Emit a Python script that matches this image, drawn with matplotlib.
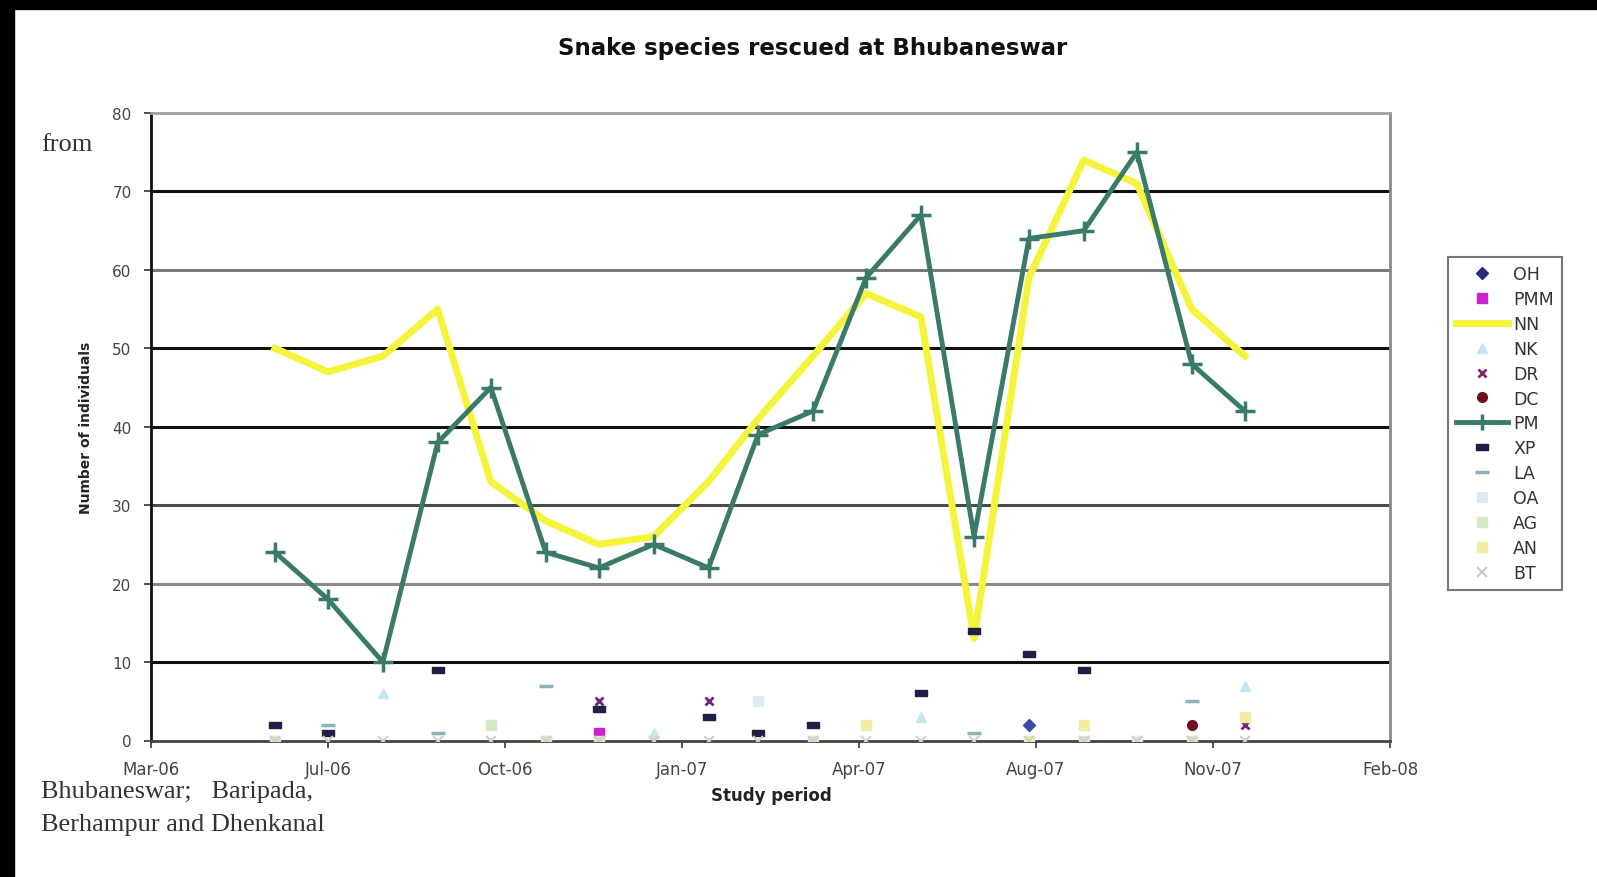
import numpy as np
import pandas as pd
import matplotlib
matplotlib.use('Agg')
import matplotlib.pyplot as plt
import matplotlib.dates as mdates
from matplotlib.patches import Rectangle
from matplotlib.lines import Line2D

nan = np.nan

# Monthly rescue counts, Jun-2006 .. Dec-2007
months = pd.date_range('2006-06-01', periods=19, freq='MS')

nn = [50, 47, 49, 55, 33, 28, 25, 26, 33, 41, 49, 57, 54, 13, 59, 74, 71, 55, 49]
pm = [24, 18, 10, 38, 45, 24, 22, 25, 22, 39, 42, 59, 67, 26, 64, 65, 75, 48, 42]

oh  = [nan, nan, nan, nan, nan, nan, nan, nan, nan, nan, nan, nan, nan, nan, 2, nan, nan, nan, nan]
pmm = [nan, nan, nan, nan, nan, nan, 1, nan, nan, nan, nan, nan, nan, nan, nan, nan, nan, nan, nan]
nk  = [nan, nan, 6, nan, nan, nan, nan, 1, nan, nan, nan, nan, 3, nan, nan, nan, nan, nan, 7]
dr  = [nan, nan, nan, nan, nan, nan, 5, nan, 5, nan, nan, nan, nan, nan, nan, nan, nan, nan, 2]
dc  = [nan, nan, nan, nan, nan, nan, nan, nan, nan, nan, nan, nan, nan, nan, nan, nan, nan, 2, nan]
xp  = [2, 1, nan, 9, nan, nan, 4, nan, 3, 1, 2, nan, 6, 14, 11, 9, nan, nan, nan]
la  = [nan, 2, nan, 1, nan, 7, nan, nan, nan, nan, nan, nan, nan, 1, nan, nan, nan, 5, nan]
oa  = [nan, nan, nan, nan, nan, nan, nan, nan, nan, 5, nan, nan, nan, nan, nan, nan, 0, nan, nan]
ag  = [0, nan, nan, nan, 2, 0, 0, nan, nan, nan, 0, nan, nan, nan, nan, 0, nan, 0, nan]
an  = [nan, nan, nan, nan, nan, nan, nan, nan, nan, nan, nan, 2, nan, nan, 0, 2, nan, nan, 3]
bt  = [0] * 19

species = ['OH', 'PMM', 'NN', 'NK', 'DR', 'DC', 'PM', 'XP', 'LA', 'OA', 'AG', 'AN', 'BT']
y_ticks = [0, 10, 20, 30, 40, 50, 60, 70, 80]

W, H = 1597, 878
fig = plt.figure(figsize=(W / 100, H / 100), dpi=100)
fig.patch.set_facecolor('white')

def fx(px):
    return px / W

def fy(py):
    return 1 - py / H

ax = fig.add_axes([fx(151), fy(741.5), fx(1390) - fx(151), fy(114) - fy(741.5)])

# horizontal gridlines of varying darkness
grid_cols = {10: '#111111', 20: '#8a8a8a', 30: '#4a4a4a', 40: '#111111',
             50: '#111111', 60: '#7a7a7a', 70: '#111111'}
for v, c in grid_cols.items():
    ax.axhline(v, color=c, lw=2.2, zorder=1)

rect_marker = [(-1, -0.55), (1, -0.55), (1, 0.55), (-1, 0.55), (-1, -0.55)]

ax.plot(months, nn, color='#f4f43c', lw=5, solid_joinstyle='round', zorder=3)
ax.plot(months, pm, color='#3a7a68', lw=3.5, marker='+', ms=14, mew=2.5,
        solid_joinstyle='round', zorder=4)

small = [
    (oh,  dict(marker='D', ms=6, color='#3a4aa8')),
    (pmm, dict(marker='s', ms=7, color='#cc22cc')),
    (nk,  dict(marker='^', ms=7, color='#c4e6f2')),
    (dr,  dict(marker='x', ms=6, mew=2, color='#6b2a78')),
    (dc,  dict(marker='o', ms=7, color='#6e1020')),
    (xp,  dict(marker=rect_marker, ms=8, color='#1f1f45')),
    (la,  dict(marker='_', ms=10, mew=2.5, color='#8fb0b5')),
    (oa,  dict(marker='s', ms=7, color='#dcecf6')),
    (ag,  dict(marker='s', ms=7, color='#d4e8c6')),
    (an,  dict(marker='s', ms=7, color='#f4eea4')),
    (bt,  dict(marker='x', ms=7, mew=1.5, color='#d0d0d0')),
]
for vals, kw in small:
    ax.plot(months, vals, ls='none', zorder=5, **kw)

x0 = pd.Timestamp('2006-03-23')
ax.set_xlim(x0, x0 + pd.Timedelta(days=700))
ax.set_ylim(0, 80)
ax.set_xticks([x0 + pd.Timedelta(days=100 * k) for k in range(8)])
ax.xaxis.set_major_formatter(mdates.DateFormatter('%b-%y'))
ax.set_yticks(y_ticks)

ax.tick_params(axis='both', direction='out', length=5, width=1.2, colors='#333333',
               labelcolor='#444444')
ax.tick_params(axis='y', labelsize=11, pad=9)
ax.tick_params(axis='x', labelsize=12, pad=9)
for lab in ax.get_xticklabels() + ax.get_yticklabels():
    lab.set_family('DejaVu Sans')

ax.spines['left'].set_color('#111111')
ax.spines['left'].set_linewidth(2)
ax.spines['bottom'].set_color('#444444')
ax.spines['bottom'].set_linewidth(2)
ax.spines['top'].set_color('#a0a0a0')
ax.spines['top'].set_linewidth(2)
ax.spines['right'].set_color('#8a8a8a')
ax.spines['right'].set_linewidth(2)

# legend
handles = [
    Line2D([], [], ls='none', marker='D', ms=6, color='#2b2b80'),
    Line2D([], [], ls='none', marker='s', ms=7, color='#cc22cc'),
    Line2D([], [], color='#f4f43c', lw=5),
    Line2D([], [], ls='none', marker='^', ms=7, color='#c4e6f2'),
    Line2D([], [], ls='none', marker='x', ms=6, mew=2, color='#7b2a68'),
    Line2D([], [], ls='none', marker='o', ms=7, color='#6e1020'),
    Line2D([], [], color='#3a7a68', lw=3.5, marker='+', ms=12, mew=2.5),
    Line2D([], [], ls='none', marker=rect_marker, ms=8, color='#1f1f45'),
    Line2D([], [], ls='none', marker='_', ms=10, mew=2.5, color='#8fb0b5'),
    Line2D([], [], ls='none', marker='s', ms=7, color='#dcecf6'),
    Line2D([], [], ls='none', marker='s', ms=7, color='#d4e8c6'),
    Line2D([], [], ls='none', marker='s', ms=7, color='#f4eea4'),
    Line2D([], [], ls='none', marker='x', ms=7, mew=1.5, color='#c8c8c8'),
]
leg = fig.legend(handles, species, loc='upper left',
                 bbox_to_anchor=(fx(1448), fy(258)), frameon=True,
                 fancybox=False, edgecolor='#555555', fontsize=12.5,
                 labelspacing=0.4, handlelength=3.0, handletextpad=0.3,
                 borderpad=0.45, borderaxespad=0)
leg.get_frame().set_linewidth(1.5)
for t in leg.get_texts():
    t.set_color('#333333')

# titles and labels
fig.text(fx(813), fy(49), 'Snake species rescued at Bhubaneswar', ha='center',
         va='center', fontsize=16.5, fontweight='bold', color='#111111',
         family='DejaVu Sans')
fig.text(fx(86), fy(428), 'Number of individuals', rotation=90, ha='center',
         va='center', fontsize=10, fontweight='bold', color='#222222',
         family='DejaVu Sans')
fig.text(fx(771), fy(796), 'Study period', ha='center', va='center',
         fontsize=12, fontweight='bold', color='#222222', family='DejaVu Sans')

serif = dict(family='Liberation Serif', fontsize=19, color='#333333', va='center')
fig.text(fx(41), fy(145), 'from', **serif)
fig.text(fx(41), fy(792), 'Bhubaneswar;   Baripada,', **serif)
fig.text(fx(41), fy(825), 'Berhampur and Dhenkanal', **serif)

# page frame
fig.add_artist(Rectangle((0, 0), fx(14), 1, transform=fig.transFigure,
                         color='black', zorder=10))
fig.add_artist(Rectangle((0, fy(10)), 1, 10 / H, transform=fig.transFigure,
                         color='black', zorder=10))

fig.savefig('out.png', dpi=100, facecolor='white')
